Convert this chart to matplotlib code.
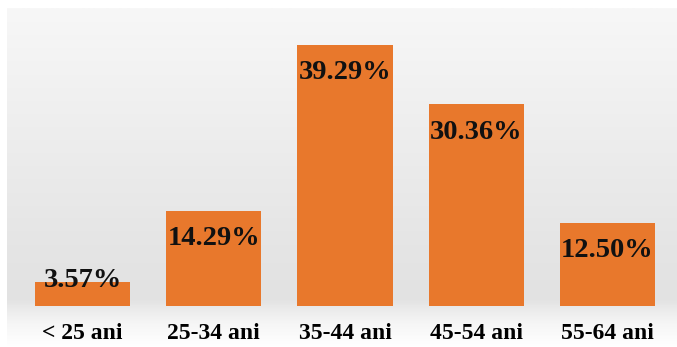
import numpy as np
import matplotlib.pyplot as plt
from matplotlib.colors import LinearSegmentedColormap

categories = ['< 25 ani', '25-34 ani', '35-44 ani', '45-54 ani', '55-64 ani']
values = [3.57, 14.29, 39.29, 30.36, 12.50]
labels = ['3.57%', '14.29%', '39.29%', '30.36%', '12.50%']

W, H = 677, 347
fig = plt.figure(figsize=(W / 100, H / 100), dpi=100)
fig.patch.set_facecolor('white')

# gradient panel behind the chart
bg = fig.add_axes([7 / W, 0, 1 - 7 / W, 1 - 8 / H])
bg.set_axis_off()
rows = np.linspace(0, 1, 340)
cmap = LinearSegmentedColormap.from_list(
    'panel', [(0.0, '#ffffff'), (0.07, '#f5f5f5'), (0.14, '#e2e2e2'),
              (0.30, '#e5e5e5'), (0.65, '#eeeeee'), (1.0, '#f7f7f7')])
bg.imshow(rows[:, None], aspect='auto', cmap=cmap, origin='lower',
          extent=[0, 1, 0, 1])
bg.set_xlim(0, 1)
bg.set_ylim(0, 1)

ax = fig.add_axes([16.9 / W, 41 / H, 656.2 / W, 298.9 / H])
ax.patch.set_alpha(0)
x = np.arange(len(categories))
ax.bar(x, values, width=0.725, color='#E8782C', zorder=3)

for xi, v, lab in zip(x, values, labels):
    ax.text(xi, max(v - 4.2, 3.9), lab, ha='center', va='center',
            family='Liberation Serif', fontweight='bold', fontsize=20.5,
            color='#111111', zorder=4)

ax.set_xlim(-0.5, 4.5)
ax.set_ylim(0, 45)
ax.set_xticks(x)
ax.set_xticklabels(categories, family='Liberation Serif', fontweight='bold',
                   fontsize=17)
ax.tick_params(axis='x', length=0, pad=12)
ax.set_yticks([])
for s in ax.spines.values():
    s.set_visible(False)

fig.savefig('out.png', dpi=100)
